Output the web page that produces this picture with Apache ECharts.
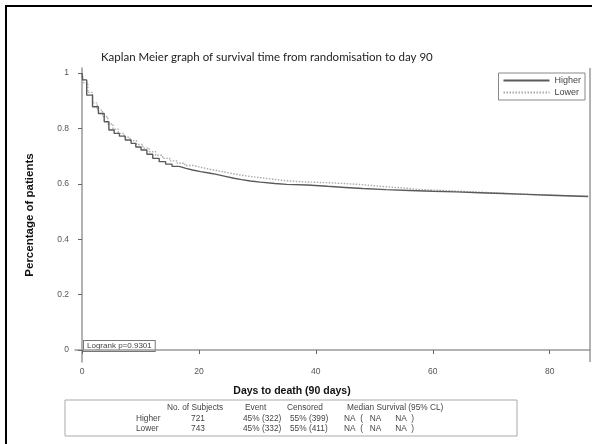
<!DOCTYPE html>
<html>
<head>
<meta charset="utf-8">
<script src="https://cdn.jsdelivr.net/npm/echarts@6/dist/echarts.min.js"></script>
<style>html,body{margin:0;padding:0;background:#fff}#c{width:592px;height:444px}</style>
</head>
<body>
<div id="c"></div>
<script>
const titleText = 'Kaplan Meier graph of survival time from randomisation to day 90';
const xTicks = [0, 20, 40, 60, 80];
const yTicks = [0, 0.2, 0.4, 0.6, 0.8, 1];
const seriesNames = ['Higher', 'Lower'];
const higher = [[0,1],[0.1,0.975],[0.8,0.92],[1.8,0.878],[2.8,0.854],[3.8,0.824],[4.6,0.794],[5.5,0.782],[6.4,0.772],[7.4,0.758],[8.4,0.746],[9.2,0.733],[10.1,0.722],[11.1,0.707],[12.1,0.692],[13.2,0.68],[14.3,0.671],[15.4,0.663],[16.6,0.656],[17.8,0.65],[18.9,0.644],[20.3,0.639],[21.7,0.634],[23,0.627],[24.5,0.62],[26,0.615],[27.3,0.61],[28.8,0.606],[30.5,0.601],[33,0.598],[35,0.596],[38.5,0.591],[42,0.587],[45,0.583],[48,0.579],[52,0.576],[56,0.573],[60,0.571],[64,0.568],[68,0.565],[72,0.562],[76,0.559],[80,0.556],[84,0.554],[86.6,0.554]];
const lower = [[0,1],[0.3,0.965],[1,0.93],[1.8,0.892],[2.6,0.866],[3.5,0.842],[4.4,0.816],[5.3,0.797],[6.2,0.782],[7.2,0.768],[8.2,0.756],[9.3,0.742],[10.4,0.729],[11.5,0.716],[12.6,0.703],[13.8,0.692],[15,0.683],[16.3,0.674],[17.6,0.666],[19,0.659],[20.5,0.652],[22,0.646],[23.6,0.639],[25.2,0.632],[27,0.626],[29,0.621],[31,0.616],[33,0.611],[35,0.607],[38,0.604],[42,0.601],[45,0.597],[48,0.591],[51,0.585],[55,0.579],[58,0.576],[62,0.572],[66,0.568],[70,0.564],[74,0.561],[78,0.558],[82,0.555],[86.6,0.554]];
const logrankText = 'Logrank p=0.9301';
const xName = 'Days to death (90 days)';
const yName = 'Percentage of patients';
const tableHeader = ['No. of Subjects', 'Event', 'Censored', 'Median Survival (95% CL)'];
const tableRowNames = ['Higher', 'Lower'];
const tableSubjects = ['721', '743'];
const tableEvent = ['45% (322)', '45% (332)'];
const tableCensored = ['55% (399)', '55% (411)'];
const tableMedian = ['NA  (   NA      NA  )', 'NA  (   NA      NA  )'];

const chart = echarts.init(document.getElementById('c'), null, {renderer: 'canvas'});
const F = 'Liberation Sans, Arial, sans-serif';
const txtColor = '#555';
const axisColor = '#999';

const graphics = [
  {type: 'rect', shape: {x: 6, y: 6, width: 620, height: 460}, style: {fill: 'none', stroke: '#000', lineWidth: 2}, silent: true},
  {type: 'line', shape: {x1: 590, y1: 68, x2: 590, y2: 362}, style: {stroke: axisColor, lineWidth: 1.5}},
  {type: 'text', x: 292, y: 391, style: {text: xName, font: 'bold 10.5px ' + F, fill: '#111', align: 'center', verticalAlign: 'middle'}},
  {type: 'text', x: 84, y: 341, style: {text: logrankText, font: '8px ' + F, fill: '#444', padding: [1, 3, 1, 3], borderColor: '#777', borderWidth: 1, backgroundColor: '#fff'}},
  {type: 'rect', shape: {x: 65, y: 400, width: 452, height: 36}, style: {fill: '#fff', stroke: '#aaa', lineWidth: 1}},
];
const hx = [167, 245, 287, 347];
tableHeader.forEach((t, i) => graphics.push({type: 'text', x: hx[i], y: 408, style: {text: t, font: '8.3px ' + F, fill: '#444', verticalAlign: 'middle'}}));
tableRowNames.forEach((name, r) => {
  const y = 419 + r * 10;
  graphics.push({type: 'text', x: 136, y: y, style: {text: name, font: '8.3px ' + F, fill: '#444', verticalAlign: 'middle'}});
  graphics.push({type: 'text', x: 198, y: y, style: {text: tableSubjects[r], font: '8.3px ' + F, fill: '#444', align: 'center', verticalAlign: 'middle'}});
  graphics.push({type: 'text', x: 243, y: y, style: {text: tableEvent[r], font: '8.3px ' + F, fill: '#444', verticalAlign: 'middle'}});
  graphics.push({type: 'text', x: 290, y: y, style: {text: tableCensored[r], font: '8.3px ' + F, fill: '#444', verticalAlign: 'middle'}});
  graphics.push({type: 'text', x: 344, y: y, style: {text: tableMedian[r], font: '8.3px ' + F, fill: '#444', verticalAlign: 'middle'}});
});

chart.setOption({
  animation: false,
  backgroundColor: '#fff',
  title: {text: titleText, left: 96, top: 46, textStyle: {fontFamily: 'Lato, sans-serif', fontSize: 11.5, fontWeight: 'normal', color: '#222'}},
  legend: {
    orient: 'vertical', right: 7, top: 73, itemWidth: 46, itemHeight: 8, itemGap: 3,
    borderColor: '#888', borderWidth: 1, padding: [3, 4, 3, 4], backgroundColor: '#fff',
    itemStyle: {opacity: 0},
    textStyle: {fontFamily: F, fontSize: 9, color: '#444'},
    data: seriesNames
  },
  grid: {left: 75, top: 68, right: 2, bottom: 82, containLabel: false},
  xAxis: {
    type: 'value', min: -1.2, max: 86.9,
    axisLine: {show: true, lineStyle: {color: axisColor, width: 1.5}},
    axisTick: {show: true, length: 4, customValues: xTicks, lineStyle: {color: '#666'}},
    axisLabel: {customValues: xTicks, fontFamily: F, fontSize: 8.5, color: txtColor, margin: 5},
    splitLine: {show: false}
  },
  yAxis: {
    type: 'value', min: -0.043, max: 1.018,
    name: yName, nameLocation: 'middle', nameRotate: 90, nameGap: 39,
    nameTextStyle: {fontFamily: '"Liberation Sans Narrow", "Liberation Sans", Arial, sans-serif', fontSize: 11.5, fontWeight: 'bold', color: '#111'},
    axisLine: {show: true, lineStyle: {color: axisColor, width: 1.5}},
    axisTick: {show: true, length: 4, customValues: yTicks, lineStyle: {color: '#666'}},
    axisLabel: {customValues: yTicks, fontFamily: F, fontSize: 8.5, color: txtColor, margin: 6, formatter: v => String(Math.round(v * 10) / 10)},
    splitLine: {show: false}
  },
  series: [
    {name: seriesNames[0], type: 'line', step: 'end', data: higher, showSymbol: false, symbol: 'none',
     lineStyle: {color: '#5a5a5a', width: 1.4, type: 'solid'}, itemStyle: {color: '#5a5a5a'}, z: 3},
    {name: seriesNames[1], type: 'line', step: 'end', data: lower, showSymbol: false, symbol: 'none',
     lineStyle: {color: '#aaa', width: 1.4, type: [1.5, 1.5]}, itemStyle: {color: '#aaa'}, z: 2}
  ],
  graphic: graphics
});
</script>
</body>
</html>
